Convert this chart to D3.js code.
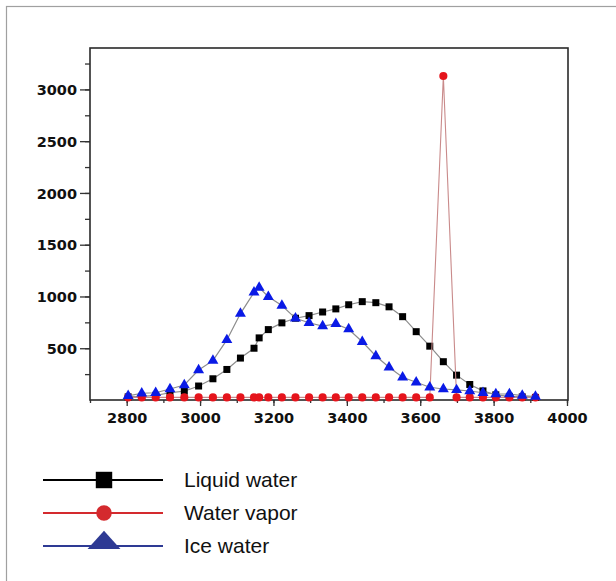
<!DOCTYPE html>
<html lang="en">
<head>
    <meta charset="UTF-8">
    <title>Water spectra</title>
    <script src="https://d3js.org/d3.v7.min.js"></script>
    <style>
        body {
            margin: 0;
            background-color: #ffffff;
        }
        svg {
            display: block;
        }
        .tick-label {
            font-family: "DejaVu Sans", sans-serif;
            font-weight: bold;
            font-size: 14.5px;
            fill: #111;
        }
        .legend-label {
            font-family: "Liberation Sans", Arial, sans-serif;
            font-size: 21px;
            fill: #111;
        }
    </style>
</head>
<body>

<svg width="616" height="581"></svg>

<script>
    // wavenumber positions shared by the three series
    const xs = [2804, 2841, 2879, 2918, 2957, 2996, 3035, 3073, 3110, 3147, 3161, 3186, 3223, 3260, 3297, 3334,
                3370, 3405, 3442, 3479, 3515, 3552, 3589, 3626, 3663, 3699, 3735, 3771, 3806, 3843, 3878, 3914];

    const liquidWater = [30, 35, 45, 70, 85, 135, 205, 295, 405, 500, 600, 680, 745, 790, 815, 850,
                         880, 920, 950, 940, 900, 805, 660, 520, 370, 240, 150, 88, 50, 35, 30, 25];

    const waterVapor = [25, 25, 25, 25, 25, 25, 25, 25, 25, 25, 25, 25, 25, 25, 25, 25,
                        25, 25, 25, 25, 25, 25, 25, 25, 3130, 25, 25, 25, 25, 25, 25, 25];

    const iceWater = [40, 65, 70, 106, 145, 290, 380, 580, 835, 1040, 1085, 997, 912, 789, 746, 714,
                      735, 684, 563, 425, 316, 219, 171, 123, 106, 97, 87, 70, 58, 58, 42, 32];

    const xTicks = [2800, 3000, 3200, 3400, 3600, 3800, 4000];
    const yTicks = [500, 1000, 1500, 2000, 2500, 3000];
    const legendNames = ["Liquid water", "Water vapor", "Ice water"];

    const svg = d3.select("svg");

    // outer frame (only top/left edge visible)
    svg.append("rect")
        .attr("x", 6.5).attr("y", 6.5)
        .attr("width", 700).attr("height", 700)
        .attr("fill", "none")
        .attr("stroke", "#a0a0a0")
        .attr("stroke-width", 1.2);

    const plot = {left: 90, right: 567, top: 48, bottom: 400};

    const x = d3.scaleLinear().domain([2700, 4000]).range([plot.left, plot.right]);
    const y = d3.scaleLinear().domain([0, 3400]).range([plot.bottom, plot.top]);

    // axes with minor ticks
    svg.append("g")
        .attr("transform", `translate(0, ${plot.bottom})`)
        .call(d3.axisBottom(x).tickValues(d3.range(2700, 4001, 100)).tickSize(3).tickFormat(""));
    svg.append("g")
        .attr("transform", `translate(0, ${plot.bottom})`)
        .call(d3.axisBottom(x).tickValues(xTicks).tickSize(6).tickPadding(7).tickFormat(d3.format("d")))
        .call(g => g.selectAll("text").attr("class", "tick-label"));

    svg.append("g")
        .attr("transform", `translate(${plot.left}, 0)`)
        .call(d3.axisLeft(y).tickValues(d3.range(250, 3400, 250)).tickSize(5).tickFormat(""));
    svg.append("g")
        .attr("transform", `translate(${plot.left}, 0)`)
        .call(d3.axisLeft(y).tickValues(yTicks).tickSize(10).tickPadding(3).tickFormat(d3.format("d")))
        .call(g => g.selectAll("text").attr("class", "tick-label").attr("dy", "0.36em"));

    svg.selectAll(".domain").remove();
    svg.selectAll(".tick line").attr("stroke", "#333").attr("stroke-width", 1.3);

    // plot frame
    svg.append("rect")
        .attr("x", plot.left).attr("y", plot.top)
        .attr("width", plot.right - plot.left + 1).attr("height", plot.bottom - plot.top)
        .attr("fill", "none")
        .attr("stroke", "#2a2a2a")
        .attr("stroke-width", 1.6);

    const series = [
        {values: liquidWater, line: "#8c8c8c", width: 1.2, fill: "#000000", symbol: d3.symbolSquare, size: 49},
        {values: waterVapor, line: "#c98a8a", width: 1.1, fill: "#e5141c", symbol: d3.symbolCircle, size: 52},
        {values: iceWater, line: "#8c8c8c", width: 1.2, fill: "#0a1ae6", symbol: d3.symbolTriangle, size: 52}
    ];

    const line = d3.line()
        .x(d => x(d[0]))
        .y(d => y(d[1]));

    series.forEach(s => {
        const pts = xs.map((v, i) => [v, s.values[i]]);
        svg.append("path")
            .datum(pts)
            .attr("d", line)
            .attr("fill", "none")
            .attr("stroke", s.line)
            .attr("stroke-width", s.width);
        svg.append("g")
            .selectAll("path")
            .data(pts)
            .enter()
            .append("path")
            .attr("transform", d => `translate(${x(d[0])}, ${y(d[1])})`)
            .attr("d", d3.symbol().type(s.symbol).size(s.size))
            .attr("fill", s.fill);
    });

    // legend
    const legendColors = ["#000000", "#d42a2e", "#2e3a94"];
    const legendSymbols = [d3.symbolSquare, d3.symbolCircle, d3.symbolTriangle];
    const legendSizes = [270, 190, 300];
    const legendY = [480, 513, 546];

    legendNames.forEach((name, i) => {
        const g = svg.append("g").attr("transform", `translate(0, ${legendY[i]})`);
        g.append("line")
            .attr("x1", 43).attr("x2", 163)
            .attr("stroke", legendColors[i])
            .attr("stroke-width", 2);
        g.append("path")
            .attr("transform", i === 2 ? "translate(104, -3) scale(1.25, 0.8)" : "translate(104, 0)")
            .attr("d", d3.symbol().type(legendSymbols[i]).size(legendSizes[i]))
            .attr("fill", legendColors[i]);
        g.append("text")
            .attr("class", "legend-label")
            .attr("x", 184)
            .attr("y", 7)
            .text(name);
    });
</script>

</body>
</html>
